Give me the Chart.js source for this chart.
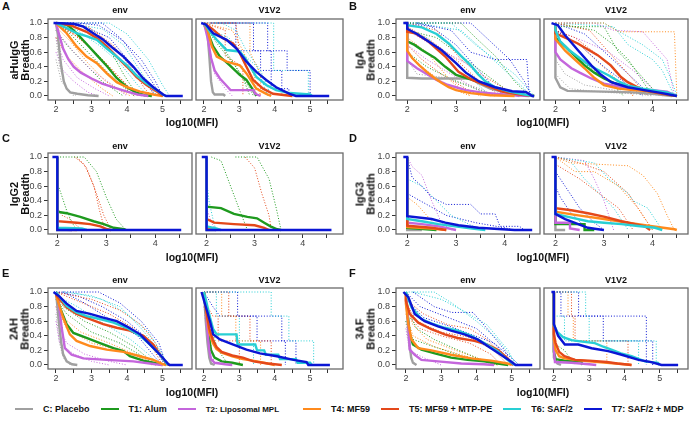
<!DOCTYPE html>
<html>
<head>
<meta charset="utf-8">
<script src="https://cdn.jsdelivr.net/npm/chart.js@4.4.1/dist/chart.umd.min.js"></script>
<style>
  body { margin: 0; width: 689px; height: 422px; background: #fff; position: relative; overflow: hidden;
         font-family: "Liberation Sans", Arial, sans-serif; color: #111; }
  canvas { position: absolute; }
  .t { position: absolute; white-space: nowrap; }
  .letter { font-weight: bold; font-size: 11px; }
  .facet { font-weight: bold; font-size: 9px; text-align: center; width: 100px; line-height: 12px; }
  .xt { font-weight: bold; font-size: 10.5px; text-align: center; width: 120px; line-height: 12px; }
  .yt { font-weight: bold; font-size: 11px; text-align: center; line-height: 11px; transform: rotate(-90deg); }
  #legend { position: absolute; left: 15px; top: 403px; display: flex; align-items: center; height: 12px; white-space: nowrap; }
  #legend .ln { width: 18px; height: 2.5px; margin-right: 10px; }
  #legend .tx { font-weight: bold; font-size: 9px; margin-right: 11px; color: #111; }
</style>
</head>
<body>
<div id="legend"></div>
<script>
// groups and colours
const groups = ["C: Placebo", "T1: Alum", "T2: Liposomal MPL", "T4: MF59", "T5: MF59 + MTP-PE", "T6: SAF/2", "T7: SAF/2 + MDP"];
const colors = ["#a0a0a0", "#1e9a1e", "#c466dc", "#ff8a1c", "#e4481a", "#28cfd4", "#0b16d4"];

const xTicksWide = [2, 2.5, 3, 3.5, 4, 4.5, 5, 5.5];
const xTicksNarrow = [2, 2.5, 3, 3.5, 4, 4.5];
const yTicks = [0, 0.2, 0.4, 0.6, 0.8, 1];

// thick curves, one per group (order: gray, green, purple, orange, red, cyan, blue)
const A_env = [
  [[2,1],[2.05,0.85],[2.1,0.6],[2.15,0.4],[2.22,0.2],[2.3,0.1],[2.4,0.05],[2.6,0.03],[2.9,0.01],[3.2,0]],
  [[2,1],[2.3,0.98],[2.45,0.92],[2.6,0.85],[2.85,0.72],[3.15,0.56],[3.45,0.4],[3.7,0.25],[4.0,0.12],[4.25,0.05],[4.5,0.01],[4.7,0]],
  [[2,1],[2.1,0.82],[2.2,0.65],[2.35,0.5],[2.5,0.4],[2.7,0.32],[3.0,0.24],[3.3,0.17],[3.6,0.12],[4.0,0.06],[4.3,0.02],[4.6,0]],
  [[2,1],[2.15,0.93],[2.3,0.86],[2.58,0.68],[2.86,0.54],[3.15,0.45],[3.43,0.31],[3.71,0.19],[4.0,0.12],[4.37,0.06],[4.74,0.02],[5.0,0]],
  [[2,1],[2.4,0.97],[2.6,0.93],[2.86,0.88],[3.15,0.79],[3.43,0.68],[3.71,0.54],[4.0,0.4],[4.27,0.26],[4.55,0.15],[4.84,0.06],[5.02,0]],
  [[2,1],[2.3,0.93],[2.58,0.86],[2.86,0.82],[3.15,0.77],[3.43,0.65],[3.71,0.54],[4.0,0.42],[4.27,0.28],[4.55,0.17],[4.84,0.08],[5.0,0.02],[5.1,0]],
  [[1.93,1],[2.5,0.99],[2.77,0.95],[3.05,0.86],[3.33,0.77],[3.62,0.65],[3.9,0.54],[4.18,0.4],[4.46,0.24],[4.74,0.12],[5.02,0.02],[5.1,0],[5.57,0]]
];
const A_v1v2 = [
  [[2,1],[2.1,0.85],[2.15,0.55],[2.2,0.2],[2.25,0.05],[2.3,0.02],[2.55,0.02],[2.6,0]],
  [[2,1],[2.1,0.88],[2.26,0.68],[2.45,0.54],[2.73,0.42],[3.01,0.29],[3.2,0.22],[3.39,0.08],[3.48,0]],
  [[2,1],[2.1,0.8],[2.2,0.52],[2.3,0.35],[2.45,0.24],[2.6,0.16],[2.75,0.08],[3.4,0.08],[3.45,0.03],[3.6,0]],
  [[2,1],[2.1,0.9],[2.22,0.68],[2.36,0.54],[2.64,0.47],[3.01,0.42],[3.2,0.31],[3.48,0.1],[3.76,0.03],[3.9,0]],
  [[2,1],[2.26,0.91],[2.54,0.79],[2.82,0.72],[3.01,0.59],[3.2,0.4],[3.39,0.22],[3.67,0.1],[3.95,0.03],[4.5,0]],
  [[2,1],[2.17,0.88],[2.36,0.77],[2.64,0.63],[3.01,0.61],[3.2,0.49],[3.48,0.26],[3.76,0.15],[4.04,0.08],[4.42,0.04],[5.0,0.02],[5.05,0]],
  [[1.92,1],[2.05,0.98],[2.26,0.86],[2.64,0.77],[2.92,0.65],[3.2,0.47],[3.48,0.33],[3.76,0.22],[4.04,0.12],[4.42,0.03],[4.6,0],[5.54,0]]
];
const B_env = [
  [[1.95,1],[2,1],[2,0.25],[2.3,0.24],[3.3,0.24],[3.45,0.18],[3.7,0.1],[4.0,0.05],[4.3,0]],
  [[2,1],[2,0.75],[2.15,0.7],[2.3,0.63],[2.57,0.52],[2.78,0.4],[3.0,0.29],[3.33,0.22],[3.67,0.15],[4.0,0.06],[4.3,0.02],[4.6,0]],
  [[2,1],[2,0.48],[2.2,0.38],[2.4,0.3],[2.6,0.22],[2.8,0.16],[3.0,0.12],[3.2,0.08],[3.5,0.05],[3.8,0.03],[4.2,0.01],[4.5,0]],
  [[2,1],[2,0.62],[2.1,0.52],[2.25,0.42],[2.4,0.33],[2.55,0.25],[2.7,0.18],[2.85,0.12],[3.0,0.08],[3.3,0.04],[3.7,0.01],[4.2,0]],
  [[2,1],[2,0.88],[2.16,0.86],[2.43,0.75],[2.78,0.54],[3.05,0.33],[3.33,0.22],[3.6,0.15],[3.95,0.06],[4.3,0.02],[4.6,0]],
  [[2,1],[2,0.97],[2.3,0.94],[2.6,0.85],[2.85,0.72],[3.1,0.55],[3.3,0.42],[3.45,0.3],[3.6,0.2],[3.8,0.12],[4.1,0.06],[4.4,0.02],[4.6,0]],
  [[1.92,1],[2,1],[2,0.92],[2.2,0.85],[2.5,0.72],[2.7,0.63],[3.0,0.45],[3.2,0.32],[3.47,0.2],[3.8,0.12],[4.15,0.065],[4.43,0.055],[4.56,0],[4.6,0]]
];
const B_v1v2 = [
  [[2,1],[2,0.25],[2.1,0.12],[2.25,0.07],[3.0,0.06],[3.6,0.05],[4.0,0.03],[4.4,0]],
  [[2,1],[2,0.8],[2.2,0.68],[2.4,0.55],[2.6,0.42],[2.8,0.32],[3.0,0.24],[3.2,0.18],[3.5,0.12],[3.8,0.08],[4.2,0.04],[4.5,0]],
  [[2,1],[2,0.6],[2.1,0.5],[2.33,0.38],[2.5,0.32],[2.74,0.24],[3.0,0.17],[3.3,0.13],[3.6,0.1],[4.0,0.08],[4.3,0.06],[4.5,0]],
  [[2,1],[2,0.78],[2.2,0.62],[2.4,0.5],[2.6,0.38],[2.8,0.25],[3.0,0.15],[3.3,0.1],[3.6,0.08],[4.0,0.06],[4.3,0.03],[4.5,0]],
  [[2,1],[2,0.86],[2.2,0.8],[2.46,0.72],[2.87,0.56],[3.14,0.42],[3.35,0.26],[3.49,0.19],[3.8,0.08],[4.2,0.03],[4.5,0]],
  [[2,1],[2,0.9],[2.1,0.75],[2.3,0.62],[2.5,0.52],[2.7,0.42],[2.9,0.35],[3.1,0.28],[3.3,0.2],[3.5,0.14],[3.8,0.1],[4.1,0.07],[4.3,0.05],[4.5,0]],
  [[1.92,1],[2.05,0.97],[2.19,0.84],[2.46,0.63],[2.74,0.42],[2.94,0.29],[3.15,0.19],[3.49,0.12],[3.83,0.08],[4.2,0.04],[4.5,0]]
];
const C_env = [
  [[2,1],[2,0],[2.3,0]],
  [[2,1],[2,0.25],[2.19,0.23],[2.47,0.18],[2.74,0.12],[2.95,0.08],[3.15,0.03],[3.36,0.01],[3.4,0]],
  [[2,1],[2,0.01],[2.3,0]],
  [[2,1],[2,0.01],[2.4,0]],
  [[2,1],[2,0.12],[2.4,0.1],[2.67,0.08],[2.88,0.05],[3.02,0.01],[3.1,0]],
  [[2,1],[2,0.03],[2.5,0.02],[2.6,0]],
  [[1.9,1],[2,1],[2,0],[4.53,0]]
];
const C_v1v2 = [
  [[2,1],[2,0],[2.2,0]],
  [[2,1],[2,0.32],[2.3,0.3],[2.57,0.22],[2.85,0.18],[3.05,0.16],[3.2,0.1],[3.33,0.05],[3.47,0.01],[3.55,0]],
  [[2,1],[2,0.02],[2.2,0]],
  [[2,1],[2,0.03],[2.1,0]],
  [[2,1],[2,0.15],[2.16,0.1],[2.57,0.08],[3.0,0.065],[3.2,0.03],[3.3,0]],
  [[2,1],[2,0.05],[2.2,0.02],[2.3,0]],
  [[1.9,1],[2,1],[2,0],[4.6,0]]
];
const D_env = [
  [[2,1],[2,0],[2.3,0]],
  [[2,1],[2,0.03],[2.6,0]],
  [[2,1],[2,0.1],[2.3,0.08],[2.65,0.05],[3.0,0]],
  [[2,1],[2,0.04],[2.5,0.02],[2.8,0]],
  [[2,1],[2,0.06],[2.5,0.03],[2.8,0]],
  [[2,1],[2,0.15],[2.3,0.12],[2.64,0.08],[2.98,0.05],[3.33,0.02],[3.6,0]],
  [[1.92,1],[2,1],[2,0.19],[2.5,0.15],[2.78,0.1],[3.05,0.065],[3.46,0.03],[3.95,0.01],[4.2,0],[4.56,0]]
];
const D_v1v2 = [
  [[2,1],[2,0],[2.2,0]],
  [[2,1],[2,0.08],[2.6,0.08],[2.6,0],[2.8,0]],
  [[2,1],[2,0.1],[2.3,0.1],[2.3,0.02],[2.5,0]],
  [[2,1],[2,0.25],[2.47,0.2],[3.0,0.15],[3.5,0.1],[3.95,0.055],[4.45,0.01],[4.5,0]],
  [[2,1],[2,0.3],[2.33,0.27],[2.67,0.23],[3.02,0.18],[3.36,0.12],[3.64,0.08],[3.84,0.05],[3.95,0]],
  [[2,1],[2,0.22],[2.33,0.17],[2.67,0.12],[3.0,0.1],[3.36,0.08],[3.7,0.055],[4.05,0.03],[4.2,0]],
  [[1.92,1],[2,1],[2,0.22],[2.2,0.15],[2.47,0.08],[2.67,0.03],[2.88,0.01],[3.0,0]]
];
const E_env = [
  [[2,1],[2.05,0.75],[2.1,0.5],[2.15,0.3],[2.2,0.15],[2.3,0.05],[2.45,0.01],[2.6,0]],
  [[2,1],[2.11,0.79],[2.3,0.56],[2.49,0.44],[2.86,0.37],[3.24,0.3],[3.62,0.23],[3.9,0.19],[4.08,0.12],[4.46,0.06],[4.84,0.02],[5.0,0]],
  [[2,1],[2.07,0.88],[2.16,0.51],[2.25,0.23],[2.44,0.14],[2.77,0.09],[3.43,0.07],[4.18,0.05],[4.8,0.01],[5.0,0]],
  [[2,1],[2.02,0.93],[2.2,0.65],[2.39,0.42],[2.58,0.33],[2.96,0.26],[3.43,0.21],[3.9,0.18],[4.37,0.12],[4.74,0.07],[5.02,0.01],[5.1,0]],
  [[2,1],[2.02,0.95],[2.3,0.79],[2.58,0.7],[2.96,0.63],[3.33,0.56],[3.71,0.51],[4.08,0.47],[4.46,0.4],[4.74,0.28],[4.93,0.14],[5.12,0.01],[5.2,0]],
  [[2,1],[2.3,0.81],[2.58,0.72],[2.86,0.67],[3.24,0.63],[3.62,0.58],[3.99,0.51],[4.37,0.4],[4.65,0.28],[4.93,0.14],[5.07,0.05],[5.15,0]],
  [[1.93,1],[2.07,0.95],[2.3,0.84],[2.58,0.74],[2.96,0.7],[3.33,0.65],[3.71,0.6],[3.99,0.53],[4.37,0.42],[4.65,0.28],[4.93,0.14],[5.17,0.01],[5.2,0],[5.57,0]]
];
const E_v1v2 = [
  [[2,1],[2.05,0.6],[2.1,0.3],[2.15,0.1],[2.2,0.02],[2.3,0]],
  [[2,1],[2.05,0.75],[2.12,0.45],[2.2,0.2],[2.3,0.1],[2.5,0.05],[2.8,0.03],[3.0,0.01],[3.1,0]],
  [[2,1],[2.05,0.75],[2.1,0.45],[2.15,0.2],[2.2,0.08],[2.3,0.03],[2.6,0.01],[2.8,0]],
  [[2,1],[2.07,0.7],[2.15,0.45],[2.25,0.3],[2.35,0.22],[2.5,0.17],[2.8,0.12],[3.1,0.08],[3.5,0.05],[3.8,0.02],[4.0,0]],
  [[2,1],[2.08,0.7],[2.15,0.5],[2.25,0.35],[2.35,0.25],[2.5,0.18],[2.8,0.13],[3.1,0.1],[3.4,0.05],[3.8,0.02],[4.2,0]],
  [[2,1],[2.17,0.65],[2.26,0.49],[2.36,0.42],[2.92,0.42],[2.95,0.28],[3.45,0.28],[3.5,0.2],[3.7,0.2],[3.75,0.14],[4.1,0.14],[4.15,0.08],[4.6,0.08],[4.65,0.03],[5.0,0.03],[5.05,0]],
  [[1.93,1],[2.17,0.6],[2.26,0.42],[2.45,0.35],[2.83,0.28],[3.2,0.21],[3.58,0.16],[4.06,0.12],[4.53,0.07],[4.9,0.04],[4.95,0],[5.56,0]]
];
const F_env = [
  [[2,1],[2.05,0.6],[2.1,0.3],[2.15,0.1],[2.2,0.03],[2.3,0]],
  [[2,1],[2.05,0.7],[2.11,0.42],[2.2,0.28],[2.44,0.21],[2.82,0.16],[3.28,0.1],[3.75,0.07],[4.22,0.05],[4.6,0.02],[4.9,0]],
  [[2,1],[2.07,0.56],[2.11,0.21],[2.25,0.14],[2.44,0.07],[2.91,0.05],[3.57,0.02],[4.2,0.01],[4.5,0]],
  [[2,1],[2,0.84],[2.07,0.56],[2.16,0.35],[2.35,0.23],[2.72,0.2],[3.28,0.14],[3.85,0.09],[4.41,0.06],[4.88,0.02],[5.0,0]],
  [[2,1],[2,0.88],[2.11,0.7],[2.35,0.58],[2.72,0.49],[3.1,0.42],[3.47,0.37],[3.94,0.33],[4.31,0.28],[4.6,0.21],[4.88,0.09],[5.0,0.02],[5.05,0]],
  [[2,1],[2.16,0.79],[2.44,0.63],[2.72,0.57],[3.1,0.51],[3.47,0.47],[3.85,0.4],[4.22,0.3],[4.6,0.19],[4.88,0.07],[5.05,0.01],[5.1,0]],
  [[1.93,1],[2.07,0.93],[2.25,0.7],[2.53,0.6],[2.91,0.53],[3.28,0.47],[3.66,0.42],[4.03,0.35],[4.41,0.23],[4.69,0.14],[4.97,0.05],[5.11,0],[5.58,0]]
];
const F_v1v2 = [
  [[2,1],[2,0.1],[2.1,0.02],[2.2,0]],
  [[2,1],[2,0.18],[2.05,0.08],[2.3,0.06],[2.78,0.05],[2.8,0]],
  [[2,1],[2,0.22],[2.03,0.04],[2.5,0.03],[3.0,0.01],[3.2,0]],
  [[2,1],[2,0.35],[2.05,0.2],[2.15,0.12],[2.3,0.09],[2.6,0.07],[3.0,0.05],[3.5,0.03],[4.0,0.01],[4.2,0]],
  [[2,1],[2,0.42],[2.05,0.3],[2.15,0.18],[2.3,0.12],[2.6,0.07],[3.0,0.06],[3.5,0.04],[3.8,0.02],[4.2,0]],
  [[2,1],[2,0.55],[2.1,0.45],[2.26,0.38],[2.5,0.34],[2.8,0.32],[3.16,0.3],[3.4,0.25],[3.63,0.21],[3.9,0.16],[4.2,0.12],[4.58,0.05],[4.95,0.03],[5.0,0]],
  [[1.93,1],[2,1],[2,0.56],[2.12,0.4],[2.31,0.28],[2.69,0.28],[3.07,0.23],[3.54,0.19],[3.92,0.14],[4.4,0.07],[4.76,0.04],[5.05,0],[5.52,0]]
];

// dotted curves for single animals: [group index, points]
const A_env_dots = [
  [6, [[2,1],[3.3,1],[3.8,0.8],[4.4,0.5],[4.8,0.2],[5.0,0]]],
  [6, [[2,1],[2.8,0.95],[3.5,0.8],[4.1,0.45],[4.6,0.15],[4.8,0]]],
  [5, [[2.3,1],[3.3,0.92],[3.9,0.7],[4.3,0.4],[4.7,0.1],[4.85,0]]],
  [4, [[2.2,1],[2.9,0.95],[3.6,0.7],[4.1,0.4],[4.5,0.1],[4.7,0]]],
  [4, [[2,1],[2.5,0.85],[3.1,0.6],[3.7,0.3],[4.2,0.05],[4.3,0]]],
  [1, [[2,1],[2.4,0.85],[3.0,0.55],[3.5,0.3],[4.0,0.08],[4.2,0]]],
  [1, [[2.5,1],[3.0,0.9],[3.5,0.65],[3.9,0.3],[4.3,0]]],
  [3, [[2,0.95],[2.4,0.75],[2.9,0.45],[3.4,0.2],[3.9,0.05],[4.1,0]]],
  [3, [[2,0.8],[2.3,0.55],[2.8,0.3],[3.3,0.1],[3.6,0]]],
  [2, [[2,0.8],[2.2,0.5],[2.6,0.25],[3.1,0.1],[3.5,0]]],
  [2, [[2,0.9],[2.5,0.6],[3.0,0.35],[3.6,0.15],[4.0,0]]],
  [0, [[2,0.5],[2.15,0.2],[2.4,0.05],[2.6,0]]],
  [0, [[2,0.8],[2.1,0.4],[2.3,0.1],[2.5,0]]],
  [5, [[2,1],[3.5,1],[4.0,0.85],[4.6,0.5],[5.0,0.15],[5.2,0]]],
  [6, [[2.6,1],[3.2,0.97],[3.9,0.75],[4.5,0.35],[4.9,0.05],[5.0,0]]],
  [4, [[2,1],[2.7,0.97],[3.3,0.8],[3.9,0.55],[4.4,0.25],[4.8,0]]],
  [5, [[2,1],[2.6,0.9],[3.2,0.7],[3.8,0.45],[4.3,0.15],[4.6,0]]],
  [3, [[2,1],[2.5,0.85],[3.0,0.65],[3.6,0.35],[4.1,0.1],[4.4,0]]],
  [1, [[2,0.9],[2.3,0.7],[2.8,0.45],[3.3,0.2],[3.8,0.03],[3.9,0]]],
  [2, [[2,0.6],[2.2,0.35],[2.5,0.2],[2.9,0.05],[3.2,0]]],
  [4, [[2,1],[2.3,0.9],[2.8,0.75],[3.4,0.45],[3.9,0.15],[4.2,0]]]
];
const A_v1v2_dots = [
  [6, [[2.2,1],[3.8,1],[3.8,0.62],[4.35,0.62],[4.35,0.35],[5.0,0.35],[5.0,0]]],
  [5, [[2.3,1],[3.97,1],[3.97,0.35],[4.95,0.35],[4.95,0]]],
  [3, [[2.2,1],[3.3,1],[3.3,0.6],[3.6,0.3],[3.6,0]]],
  [4, [[2.1,1],[2.9,1],[3.0,0.6],[3.3,0.3],[3.5,0]]],
  [1, [[2.1,0.9],[2.4,0.7],[2.9,0.4],[3.3,0.1],[3.4,0]]],
  [6, [[2.4,1],[3.4,1],[3.4,0.62],[3.9,0.62],[3.9,0.1],[4.4,0.1],[4.4,0]]],
  [2, [[2.1,0.8],[2.3,0.3],[2.6,0.1],[2.8,0]]],
  [5, [[2.2,0.9],[2.7,0.8],[3.0,0.62],[3.5,0.4],[3.8,0]]],
  [4, [[2,1],[2.6,0.9],[2.6,0.55],[3.1,0.4],[3.1,0]]],
  [3, [[2,1],[2.4,0.95],[2.8,0.9],[3.1,0.62],[3.4,0.3],[3.6,0]]],
  [5, [[2,1],[2.5,1],[2.9,0.9],[3.2,0.62],[3.6,0.35],[3.9,0]]],
  [1, [[2,0.95],[2.3,0.8],[2.7,0.55],[3.1,0.25],[3.3,0]]],
  [6, [[2,1],[2.9,1],[2.9,0.62],[3.6,0.62],[3.6,0.35],[4.2,0.35],[4.2,0]]]
];
const B_env_dots = [
  [1, [[2,1],[3.1,1],[3.4,0.8],[3.8,0.55],[4.2,0.2],[4.5,0]]],
  [6, [[2.2,1],[2.9,0.9],[3.3,0.6],[3.8,0.5],[4.45,0.5],[4.5,0]]],
  [5, [[2,1],[2.9,1],[3.4,0.7],[3.8,0.5],[4.2,0.3],[4.6,0]]],
  [4, [[2,1],[2.6,0.9],[3.1,0.5],[3.5,0.3],[4.0,0.1],[4.2,0]]],
  [3, [[2,0.8],[2.4,0.6],[2.9,0.2],[3.3,0]]],
  [2, [[2,0.9],[2.5,0.7],[3.2,0.45],[3.6,0.2],[4.0,0]]],
  [1, [[2,0.6],[2.4,0.4],[3.0,0.2],[3.6,0.05],[3.9,0]]],
  [6, [[2,1],[2.5,0.95],[3.0,0.7],[3.4,0.4],[3.8,0.1],[4.0,0]]],
  [5, [[2,0.9],[2.4,0.8],[2.9,0.5],[3.3,0.25],[3.7,0]]],
  [4, [[2,0.7],[2.3,0.5],[2.7,0.3],[3.2,0.1],[3.5,0]]],
  [6, [[2,1],[3.3,1],[3.7,0.75],[4.1,0.5],[4.4,0.2],[4.55,0]]],
  [5, [[2.2,1],[3.1,0.9],[3.6,0.6],[4.0,0.35],[4.4,0.1],[4.5,0]]],
  [1, [[2,0.9],[2.6,0.8],[3.1,0.55],[3.6,0.3],[4.0,0.1],[4.3,0]]],
  [4, [[2,0.95],[2.5,0.75],[3.0,0.5],[3.4,0.25],[3.8,0.05],[4.0,0]]],
  [3, [[2,0.6],[2.3,0.4],[2.7,0.2],[3.1,0.05],[3.3,0]]],
  [2, [[2,0.7],[2.4,0.5],[2.9,0.3],[3.4,0.1],[3.8,0]]],
  [0, [[2,0.5],[2.2,0.3],[2.8,0.25],[3.5,0.1],[3.8,0]]]
];
const B_v1v2_dots = [
  [3, [[2,1],[3.0,1],[3.3,0.88],[4.45,0.88],[4.5,0]]],
  [2, [[2,1],[2.8,1],[3.2,0.9],[3.8,0.88],[4.3,0.5],[4.45,0]]],
  [5, [[2,1],[3.2,0.95],[3.5,0.7],[4.0,0.5],[4.2,0.35],[4.45,0]]],
  [1, [[2,0.95],[3.0,0.95],[3.3,0.6],[3.6,0.4],[4.0,0.1],[4.2,0]]],
  [4, [[2,1],[2.7,0.9],[3.1,0.6],[3.5,0.3],[3.9,0]]],
  [6, [[2,0.9],[2.5,0.7],[3.0,0.4],[3.5,0.15],[3.8,0]]],
  [0, [[2,0.3],[2.3,0.1],[3.0,0.05],[4.5,0]]],
  [4, [[2,0.9],[2.4,0.8],[2.9,0.55],[3.3,0.3],[3.6,0]]],
  [1, [[2,0.8],[2.3,0.6],[2.8,0.35],[3.2,0.15],[3.4,0]]],
  [5, [[2,1],[3.0,1],[3.4,0.85],[3.8,0.7],[4.2,0.5],[4.4,0.2],[4.5,0]]],
  [2, [[2,0.9],[2.6,0.75],[3.1,0.6],[3.6,0.35],[4.0,0.1],[4.2,0]]],
  [3, [[2,0.9],[2.5,0.7],[2.9,0.45],[3.3,0.2],[3.6,0]]],
  [6, [[2,1],[2.6,0.85],[3.1,0.55],[3.5,0.3],[3.9,0.05],[4.0,0]]],
  [0, [[2,0.5],[2.2,0.3],[2.6,0.15],[3.2,0.08],[4.0,0]]],
  [1, [[2,1],[2.8,0.9],[3.2,0.7],[3.5,0.5],[3.8,0.2],[4.0,0]]]
];
const C_env_dots = [
  [1, [[2,1],[2.55,1],[2.8,0.8],[3.0,0.45],[3.2,0.15],[3.4,0]]],
  [4, [[2.35,1],[2.55,0.9],[2.75,0.6],[2.85,0.3],[2.95,0.05],[3.0,0]]],
  [4, [[2.4,1],[2.6,0.85],[2.8,0.5],[2.95,0.2],[3.1,0]]],
  [1, [[2,0.65],[2.1,0.45],[2.2,0.25],[2.3,0.1],[2.4,0]]],
  [4, [[2,0.3],[2.1,0.2],[2.25,0.15],[2.5,0]]]
];
const C_v1v2_dots = [
  [1, [[2.1,1],[2.3,0.95],[2.5,0.6],[2.7,0.25],[2.85,0]]],
  [1, [[2.6,1],[3.05,1],[3.3,0.7],[3.45,0.3],[3.55,0]]],
  [4, [[2.8,1],[3.0,0.85],[3.15,0.5],[3.3,0.2],[3.35,0]]],
  [5, [[2,0.7],[2.05,0.4],[2.15,0.1],[2.2,0]]],
  [2, [[2,0.3],[2.1,0.1],[2.2,0]]]
];
const D_env_dots = [
  [2, [[2,1],[2.1,0.87],[2.3,0.75],[2.5,0.4],[2.7,0.1],[2.9,0]]],
  [6, [[2,1],[2.1,0.72],[2.3,0.6],[2.5,0.45],[2.8,0.35],[3.3,0.35],[3.5,0.22],[3.8,0.22],[3.9,0.05],[4.3,0.05],[4.4,0]]],
  [5, [[2,0.7],[2.3,0.6],[2.6,0.4],[2.9,0.2],[3.2,0.1],[3.5,0]]],
  [3, [[2,0.45],[2.2,0.35],[2.4,0.2],[2.6,0.05],[2.8,0]]],
  [6, [[2,0.5],[2.4,0.35],[2.8,0.2],[3.4,0.1],[4.0,0.03],[4.2,0]]]
];
const D_v1v2_dots = [
  [3, [[2,1],[2.3,0.92],[3.5,0.88],[3.8,0.75],[4.1,0.5],[4.3,0.2],[4.45,0]]],
  [3, [[2,1],[2.4,0.8],[2.8,0.8],[3.3,0.6],[3.7,0.3],[4.0,0]]],
  [4, [[2,1],[2.5,0.92],[3.0,0.8],[3.5,0.5],[3.8,0.2],[4.0,0]]],
  [5, [[2,1],[2.8,0.92],[3.1,0.7],[3.5,0.5],[3.6,0.4],[3.9,0.3],[4.2,0]]],
  [6, [[2,0.8],[2.2,0.6],[2.5,0.3],[2.8,0.1],[3.0,0]]],
  [2, [[2,1],[2.6,0.95],[2.8,0.7],[3.0,0.4],[3.2,0]]],
  [4, [[2,0.9],[2.5,0.7],[2.9,0.5],[3.3,0.3],[3.6,0]]],
  [5, [[2,1],[2.3,0.95],[2.6,0.7],[2.9,0.5],[3.2,0.3],[3.5,0]]],
  [6, [[2,0.6],[2.1,0.45],[2.3,0.25],[2.6,0.05],[2.8,0]]]
];
const E_env_dots = [
  [6, [[2,1],[3.2,1],[3.8,0.85],[4.4,0.6],[4.9,0.3],[5.1,0]]],
  [5, [[2.2,1],[3.0,0.95],[3.8,0.8],[4.4,0.5],[4.9,0.2],[5.05,0]]],
  [4, [[2,1],[2.5,0.9],[3.5,0.7],[4.2,0.5],[4.7,0.25],[5.0,0]]],
  [1, [[2,0.9],[2.3,0.7],[3.0,0.45],[3.8,0.3],[4.5,0.1],[4.8,0]]],
  [3, [[2,0.8],[2.3,0.5],[3.0,0.3],[3.8,0.2],[4.4,0.1],[4.8,0]]],
  [2, [[2,0.6],[2.1,0.3],[2.5,0.15],[3.0,0.05],[3.5,0]]],
  [0, [[2,0.7],[2.1,0.3],[2.2,0.1],[2.4,0]]],
  [6, [[2.2,1],[2.8,0.85],[3.6,0.6],[4.3,0.4],[4.8,0.1],[5.0,0]]],
  [5, [[2,0.95],[2.6,0.8],[3.4,0.55],[4.1,0.35],[4.6,0.15],[4.9,0]]],
  [4, [[2,1],[3.0,0.9],[3.8,0.75],[4.4,0.55],[4.8,0.3],[5.1,0]]],
  [6, [[2,1],[2.6,0.95],[3.3,0.8],[4.0,0.6],[4.6,0.35],[5.0,0.05],[5.1,0]]],
  [1, [[2,1],[2.2,0.8],[2.8,0.6],[3.5,0.45],[4.2,0.25],[4.7,0.05],[4.9,0]]],
  [3, [[2,0.9],[2.2,0.65],[2.7,0.45],[3.5,0.3],[4.2,0.15],[4.7,0]]],
  [2, [[2,0.8],[2.1,0.5],[2.3,0.3],[2.8,0.15],[3.5,0.05],[4.0,0]]],
  [5, [[2.4,1],[3.3,0.9],[4.0,0.7],[4.6,0.45],[5.0,0.15],[5.1,0]]]
];
const E_v1v2_dots = [
  [5, [[2,1],[3.9,1],[3.9,0.67],[4.4,0.67],[4.4,0.33],[5.1,0.33],[5.1,0]]],
  [6, [[2,1],[2.95,1],[2.95,0.67],[4.2,0.67],[4.2,0.33],[4.6,0.33],[4.6,0]]],
  [4, [[2,1],[2.7,1],[2.7,0.67],[3.3,0.67],[3.3,0.33],[3.9,0.33],[3.9,0]]],
  [3, [[2,1],[2.5,1],[2.5,0.67],[2.9,0.67],[2.9,0.33],[3.6,0.33],[3.6,0]]],
  [6, [[2,1],[2.25,0.8],[2.45,0.67],[3.5,0.67],[3.5,0.33],[4.3,0.33],[4.3,0]]],
  [1, [[2,0.9],[2.2,0.5],[2.4,0.2],[2.7,0]]],
  [2, [[2,0.8],[2.15,0.4],[2.3,0]]],
  [4, [[2,1],[2.1,0.8],[2.25,0.67],[2.4,0.67],[2.4,0.33],[3.0,0.33],[3.0,0]]],
  [5, [[2,1],[2.35,1],[2.35,0.67],[3.0,0.67],[3.0,0.33],[3.4,0.33],[3.4,0]]],
  [0, [[2,0.8],[2.1,0.3],[2.2,0]]]
];
const F_env_dots = [
  [5, [[2,1],[2.8,1],[3.3,0.85],[4.0,0.6],[4.6,0.35],[5.0,0.1],[5.2,0]]],
  [6, [[2.2,1],[2.8,0.8],[3.3,0.72],[3.9,0.72],[4.3,0.5],[4.8,0.2],[5.0,0]]],
  [4, [[2,0.9],[2.5,0.7],[3.2,0.55],[3.8,0.5],[4.3,0.35],[4.8,0.1],[5.0,0]]],
  [1, [[2,0.8],[2.3,0.5],[2.8,0.35],[3.5,0.2],[4.0,0.1],[4.5,0]]],
  [3, [[2,0.7],[2.2,0.4],[2.8,0.25],[3.5,0.15],[4.2,0.05],[4.6,0]]],
  [2, [[2,0.5],[2.1,0.2],[2.5,0.1],[3.0,0]]],
  [6, [[2,0.9],[2.5,0.65],[3.3,0.52],[4.5,0.3],[5.1,0.05],[5.2,0]]],
  [4, [[2,0.7],[2.4,0.5],[3.0,0.4],[3.8,0.3],[4.4,0.15],[4.7,0]]],
  [5, [[2.2,1],[3.0,0.9],[3.6,0.75],[4.3,0.55],[4.9,0.2],[5.1,0]]],
  [6, [[2,1],[2.4,0.8],[3.2,0.65],[4.0,0.5],[4.6,0.25],[5.0,0]]],
  [4, [[2,0.85],[2.3,0.6],[3.0,0.45],[3.8,0.38],[4.5,0.2],[4.9,0]]],
  [1, [[2,0.6],[2.2,0.35],[2.8,0.25],[3.6,0.12],[4.3,0.05],[4.6,0]]],
  [3, [[2,0.9],[2.2,0.55],[2.6,0.35],[3.3,0.22],[4.0,0.1],[4.5,0]]],
  [0, [[2,0.6],[2.1,0.2],[2.2,0.05],[2.3,0]]]
];
const F_v1v2_dots = [
  [5, [[2,1],[2.9,1],[2.9,0.67],[3.0,0.67],[3.0,0.33],[4.9,0.33],[4.9,0]]],
  [6, [[2,1],[2.2,1],[2.2,0.67],[4.62,0.67],[4.62,0]]],
  [6, [[2,1],[2.7,1],[2.7,0.67],[3.4,0.67],[3.4,0.33],[4.8,0.33],[4.8,0]]],
  [4, [[2,1],[2.5,1],[2.5,0.67],[2.6,0.67],[2.6,0.33],[4.1,0.33],[4.1,0]]],
  [3, [[2,1],[2.4,1],[2.4,0.67],[2.55,0.67],[2.55,0.33],[3.5,0.33],[3.5,0]]],
  [5, [[2,0.67],[2.3,0.67],[2.3,0.33],[4.4,0.33],[4.4,0]]],
  [1, [[2,0.3],[2.3,0.2],[2.6,0]]]
];

// layout (pixels)
const FONT = "'Liberation Sans', Arial, sans-serif";
const PAD = 8, YW = 30, XH = 16, BOXH = 81;
const rowTop = [19, 153, 288];
const colBox = [
  { env: [48, 192], v1: [196, 343], yt: 19.5, xt: 192, letter: 2 },
  { env: [396, 540], v1: [544, 688], yt: 365.5, xt: 543, letter: 349 }
];
const facetY = [10, 145.5, 280];
const xTitleY = [121.7, 256.7, 391.7];
const letterY = [0, 132, 267];

const panels = [
  { id: "A", r: 0, c: 0, ylab: "aHuIgG", env: A_env, envDots: A_env_dots, v1: A_v1v2, v1Dots: A_v1v2_dots, envX: [1.775, 5.83], v1X: [1.774, 5.93], ticks: xTicksWide },
  { id: "B", r: 0, c: 1, ylab: "IgA", env: B_env, envDots: B_env_dots, v1: B_v1v2, v1Dots: B_v1v2_dots, envX: [1.77, 4.72], v1X: [1.765, 4.73], ticks: xTicksNarrow },
  { id: "C", r: 1, c: 0, ylab: "IgG2", env: C_env, envDots: C_env_dots, v1: C_v1v2, v1Dots: C_v1v2_dots, envX: [1.81, 4.75], v1X: [1.78, 4.84], ticks: xTicksNarrow },
  { id: "D", r: 1, c: 1, ylab: "IgG3", env: D_env, envDots: D_env_dots, v1: D_v1v2, v1Dots: D_v1v2_dots, envX: [1.77, 4.72], v1X: [1.765, 4.73], ticks: xTicksNarrow },
  { id: "E", r: 2, c: 0, ylab: "2AH", env: E_env, envDots: E_env_dots, v1: E_v1v2, v1Dots: E_v1v2_dots, envX: [1.775, 5.83], v1X: [1.774, 5.93], ticks: xTicksWide },
  { id: "F", r: 2, c: 1, ylab: "3AF", env: F_env, envDots: F_env_dots, v1: F_v1v2, v1Dots: F_v1v2_dots, envX: [1.72, 5.8], v1X: [1.72, 5.8], ticks: xTicksWide }
];

function addText(cls, txt, left, top) {
  const d = document.createElement("div");
  d.className = "t " + cls;
  d.textContent = txt;
  d.style.left = left + "px";
  d.style.top = top + "px";
  document.body.appendChild(d);
  return d;
}

const boxPlugin = {
  id: "box",
  afterDraw(chart) {
    const a = chart.chartArea, ctx = chart.ctx;
    ctx.save();
    ctx.strokeStyle = "#6a6a6a";
    ctx.lineWidth = 1.3;
    ctx.strokeRect(a.left, a.top, a.right - a.left, a.bottom - a.top);
    ctx.restore();
  }
};

function makeChart(curves, dots, xr, xticks, boxX, top, showY) {
  const cv = document.createElement("canvas");
  const left = boxX[0] - PAD - (showY ? YW : 0);
  const w = boxX[1] - boxX[0] + 2 * PAD + (showY ? YW : 0);
  const h = BOXH + XH + 2 * PAD;
  cv.width = w; cv.height = h;
  cv.style.left = left + "px";
  cv.style.top = (top - PAD) + "px";
  cv.style.width = w + "px"; cv.style.height = h + "px";
  document.body.appendChild(cv);

  const datasets = [];
  dots.forEach(([g, pts]) => {
    datasets.push({ data: pts, borderColor: colors[g], borderWidth: 1, borderDash: [1, 1.8], order: 20 });
  });
  curves.forEach((pts, g) => {
    datasets.push({ label: groups[g], data: pts, borderColor: colors[g], borderWidth: 2.4, order: 10 - g });
  });

  const tickFont = { family: FONT, size: 9 };
  new Chart(cv, {
    type: "line",
    data: { datasets },
    options: {
      responsive: false,
      animation: false,
      devicePixelRatio: 1,
      layout: { padding: PAD },
      plugins: { legend: { display: false }, tooltip: { enabled: false } },
      elements: { point: { radius: 0 }, line: { tension: 0, fill: false } },
      scales: {
        x: {
          type: "linear", min: xr[0], max: xr[1],
          afterBuildTicks: s => { s.ticks = xticks.map(v => ({ value: v })); },
          afterFit: s => { s.height = XH; },
          ticks: { callback: v => Number.isInteger(v) ? String(v) : "", font: tickFont, color: "#444",
                   padding: 0, maxRotation: 0, autoSkip: false },
          grid: { drawOnChartArea: false, drawTicks: true, tickLength: 4, tickColor: "#333", tickWidth: 1 },
          border: { display: false }
        },
        y: {
          type: "linear", min: -0.055, max: 1.055, display: showY,
          afterBuildTicks: s => { s.ticks = yTicks.map(v => ({ value: v })); },
          afterFit: s => { s.width = showY ? YW : 0; },
          ticks: { callback: v => v.toFixed(1), font: tickFont, color: "#444", padding: 2, autoSkip: false },
          grid: { drawOnChartArea: false, drawTicks: true, tickLength: 4, tickColor: "#333", tickWidth: 1 },
          border: { display: false }
        }
      }
    },
    plugins: [boxPlugin]
  });
}

panels.forEach(p => {
  const col = colBox[p.c];
  const top = rowTop[p.r];
  makeChart(p.env, p.envDots, p.envX, p.ticks, col.env, top, true);
  makeChart(p.v1, p.v1Dots, p.v1X, p.ticks, col.v1, top, false);

  addText("letter", p.id, col.letter, letterY[p.r]);
  addText("facet", "env", (col.env[0] + col.env[1]) / 2 - 50, facetY[p.r] - 6);
  addText("facet", "V1V2", (col.v1[0] + col.v1[1]) / 2 - 50, facetY[p.r] - 6);
  addText("xt", "log10(MFI)", col.xt - 60, xTitleY[p.r] - 6);

  const yt = document.createElement("div");
  yt.className = "t yt";
  yt.style.width = BOXH + "px";
  yt.style.height = "22px";
  yt.style.left = (col.yt - BOXH / 2) + "px";
  yt.style.top = (top + BOXH / 2 - 11) + "px";
  yt.innerHTML = p.ylab + "<br>Breadth";
  document.body.appendChild(yt);
});

// legend (gap where T3 would be)
const legend = document.getElementById("legend");
groups.forEach((g, i) => {
  const ln = document.createElement("div");
  ln.className = "ln";
  ln.style.background = colors[i];
  const tx = document.createElement("div");
  tx.className = "tx";
  tx.textContent = g;
  if (i === 2) { tx.style.fontSize = "8px"; tx.style.marginRight = "24px"; }
  legend.appendChild(ln);
  legend.appendChild(tx);
});
</script>
</body>
</html>
